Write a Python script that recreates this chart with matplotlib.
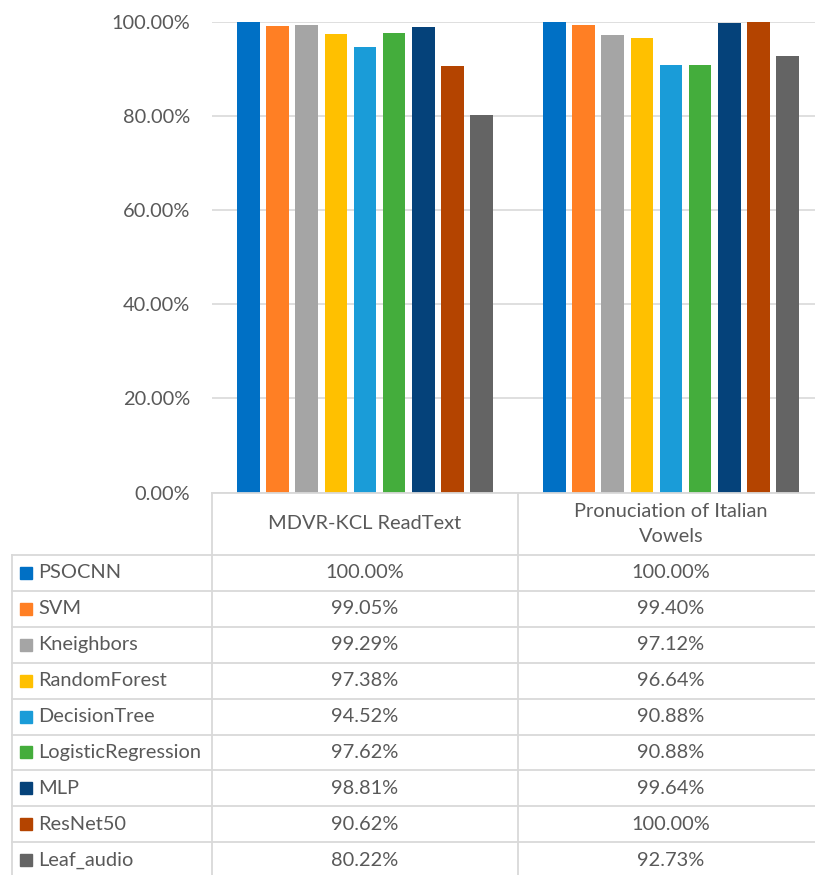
import matplotlib
matplotlib.use("Agg")
import matplotlib.pyplot as plt
from matplotlib.lines import Line2D
from matplotlib.patches import Rectangle
import numpy as np

plt.rcParams['font.family'] = ['Lato', 'DejaVu Sans']

categories = ["MDVR-KCL ReadText", "Pronuciation of Italian\nVowels"]
models = ["PSOCNN", "SVM", "Kneighbors", "RandomForest", "DecisionTree",
          "LogisticRegression", "MLP", "ResNet50", "Leaf_audio"]
mdvr = [100.00, 99.05, 99.29, 97.38, 94.52, 97.62, 98.81, 90.62, 80.22]
italian = [100.00, 99.40, 97.12, 96.64, 90.88, 90.88, 99.64, 100.00, 92.73]
yticks = [0, 20, 40, 60, 80, 100]
colors = ["#0070C5", "#FF7F24", "#A5A5A5", "#FFC000", "#1A9CD8",
          "#44AD3C", "#05427A", "#B44400", "#646464"]

W, H = 815, 875
TXT = "#595959"
GRID = "#D9D9D9"
FS = 14.4

fig = plt.figure(figsize=(W / 100, H / 100), dpi=100)


def fx(x):
    return x / W


def fy(y):
    return 1 - y / H


ax_left, ax_right, ax_top, ax_bot = 212, 824, 21.7, 492.5
ax = fig.add_axes([fx(ax_left), fy(ax_bot), (ax_right - ax_left) / W, (ax_bot - ax_top) / H])
ax.set_xlim(-0.5, 1.5)
ax.set_ylim(0, 100)

step = 0.0953
bw = 0.0739
x = np.arange(len(categories))
series = np.array([mdvr, italian]).T
for i, (name, c) in enumerate(zip(models, colors)):
    ax.bar(x + (i - 4) * step, series[i], width=bw, color=c, zorder=3)

ax.set_yticks(yticks)
ax.set_yticklabels([f"{v:.2f}%" for v in yticks], fontsize=FS, color=TXT)
ax.tick_params(axis='y', length=0, pad=15.8)
ax.set_xticks([])
ax.grid(axis='y', color=GRID, linewidth=1.2, zorder=0)
for s in ax.spines.values():
    s.set_visible(False)

# data table below
row_h = 35.9
top_rows = 555
col_x = [12, 212, 518, 824]
col_centers = [(col_x[1] + col_x[2]) / 2, (col_x[2] + col_x[3]) / 2]
n = len(models)
bottom = top_rows + n * row_h


def hline(y, x0, x1):
    fig.add_artist(Line2D([fx(x0), fx(x1)], [fy(y), fy(y)], color=GRID, lw=1.3,
                          transform=fig.transFigure))


def vline(x0, y0, y1):
    fig.add_artist(Line2D([fx(x0), fx(x0)], [fy(y0), fy(y1)], color=GRID, lw=1.3,
                          transform=fig.transFigure))


hline(ax_bot, col_x[1], W)
for k in range(n + 1):
    hline(top_rows + k * row_h, col_x[0], W)
vline(col_x[0], top_rows, bottom)
vline(col_x[1], ax_bot, bottom)
vline(col_x[2], ax_bot, bottom)

# header
for cx, cat in zip(col_centers, categories):
    fig.text(fx(cx), fy((ax_bot + top_rows) / 2), cat, ha='center', va='center',
             fontsize=FS, color=TXT, linespacing=1.6)

for i, name in enumerate(models):
    yc = top_rows + (i + 0.5) * row_h
    fig.add_artist(Rectangle((fx(20), fy(yc + 6)), 12 / W, 12 / H, color=colors[i],
                             transform=fig.transFigure))
    fig.text(fx(38), fy(yc), name, ha='left', va='center', fontsize=FS, color=TXT)
    fig.text(fx(col_centers[0]), fy(yc), f"{mdvr[i]:.2f}%", ha='center', va='center',
             fontsize=FS, color=TXT)
    fig.text(fx(col_centers[1]), fy(yc), f"{italian[i]:.2f}%", ha='center', va='center',
             fontsize=FS, color=TXT)

fig.savefig("out.png", dpi=100, facecolor="white")
